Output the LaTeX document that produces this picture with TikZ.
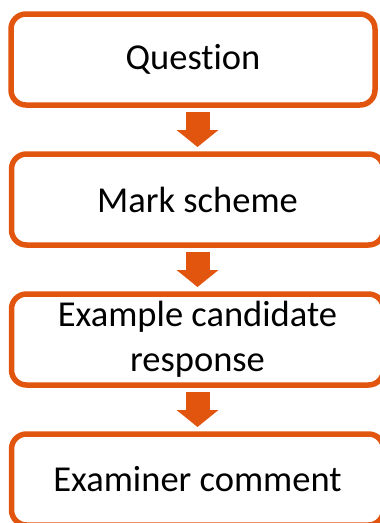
\documentclass[tikz,border=0pt]{standalone}
\usepackage{fontspec}
\setmainfont{Carlito}[Ligatures=NoCommon]
\usetikzlibrary{positioning,arrows.meta,calc}
\definecolor{markorange}{RGB}{226,85,14}
\begin{document}
\begin{tikzpicture}[x=1pt,y=1pt,
   stagebox/.style={draw=markorange, line width=5.5pt, rounded corners=15pt, outer sep=0pt,
     inner sep=2pt, minimum height=91pt, minimum width=372pt, align=center,
     font=\fontsize{36.5}{44.5}\selectfont},
   downarrow/.style={draw=markorange, line width=24pt, -{Triangle[width=41pt,length=17pt]}}]
   \useasboundingbox (0,0) rectangle (380,-523);
   \node[stagebox, minimum width=364pt] (q) at (193,-59.5) {Question};
   \node[stagebox, below=49pt of q, xshift=4.5pt] (ms) {Mark scheme};
   \node[stagebox, below=49pt of ms] (ecr) {Example candidate\\response};
   \node[stagebox, below=49pt of ecr] (ec) {Examiner comment};
   \draw[downarrow] ($(q.south -| ms.north)+(0,-7)$) -- ($(ms.north)+(0,7)$);
   \draw[downarrow] ($(ms.south)+(0,-7)$) -- ($(ecr.north)+(0,7)$);
   \draw[downarrow] ($(ecr.south)+(0,-7)$) -- ($(ec.north)+(0,7)$);
\end{tikzpicture}
\end{document}
